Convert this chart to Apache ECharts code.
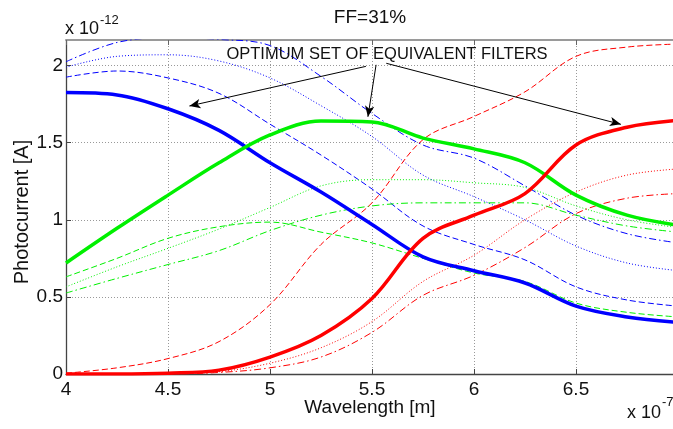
<!DOCTYPE html>
<html>
<head>
<meta charset="utf-8">
<script src="https://cdn.jsdelivr.net/npm/echarts@6/dist/echarts.min.js"></script>
<style>
html,body{margin:0;padding:0;background:#fff;}
#chart{width:673px;height:429px;}
</style>
</head>
<body>
<div id="chart"></div>
<script>
// Wavelength samples (x 10^-7 m)
const wavelengths = [4.0, 4.25, 4.5, 4.75, 5.0, 5.25, 5.5, 5.75, 6.0, 6.25, 6.5, 6.75, 7.0];
const xTicks = [4, 4.5, 5, 5.5, 6, 6.5, 7];
const yTicks = [0, 0.5, 1, 1.5, 2];

// Photocurrent (x 10^-12 A)
const blueSolid   = [1.825, 1.81, 1.72, 1.58, 1.37, 1.18, 0.97, 0.76, 0.67, 0.59, 0.44, 0.37, 0.335];
const blueDashed  = [1.925, 1.965, 1.92, 1.82, 1.62, 1.42, 1.20, 0.96, 0.84, 0.74, 0.565, 0.48, 0.44];
const blueDotted  = [1.99, 2.06, 2.07, 2.03, 1.92, 1.74, 1.54, 1.29, 1.15, 1.00, 0.83, 0.72, 0.67];
const blueDashDot = [2.025, 2.15, 2.18, 2.17, 2.13, 1.93, 1.69, 1.485, 1.40, 1.22, 1.03, 0.91, 0.85];

const greenSolid   = [0.72, 0.945, 1.16, 1.37, 1.55, 1.64, 1.635, 1.53, 1.46, 1.37, 1.16, 1.03, 0.965];
const greenDashed  = [0.63, 0.75, 0.88, 0.955, 0.985, 0.92, 0.85, 0.75, 0.655, 0.60, 0.46, 0.40, 0.37];
const greenDotted  = [0.565, 0.695, 0.815, 0.94, 1.08, 1.22, 1.26, 1.26, 1.24, 1.21, 1.09, 1.00, 0.95];
const greenDashDot = [0.525, 0.62, 0.71, 0.80, 0.93, 1.03, 1.09, 1.11, 1.11, 1.11, 1.03, 0.96, 0.92];

const redSolid   = [0.0, 0.0, 0.005, 0.025, 0.11, 0.25, 0.49, 0.88, 1.03, 1.17, 1.485, 1.60, 1.645];
const redDashed  = [0.005, 0.04, 0.10, 0.21, 0.45, 0.84, 1.11, 1.52, 1.67, 1.83, 2.06, 2.12, 2.14];
const redDotted  = [0.0, 0.0, 0.003, 0.015, 0.07, 0.17, 0.34, 0.60, 0.77, 1.00, 1.18, 1.29, 1.33];
const redDashDot = [0.0, 0.0, 0.0, 0.01, 0.04, 0.11, 0.27, 0.51, 0.64, 0.82, 1.04, 1.14, 1.17];

// Annotation arrows (data coordinates): [fromX, fromY, toX, toY]
const arrows = [
  [5.47, 1.995, 4.605, 1.738],
  [5.52, 2.005, 5.48, 1.668],
  [5.57, 2.015, 6.72, 1.619]
];

const FONT = '"Liberation Sans", Arial, sans-serif';
const BLUE = '#0000ff', GREEN = '#00f000', RED = '#ff0000';
const styles = {
  solid:   {width: 3.5, type: 'solid'},
  dashed:  {width: 1, type: [6, 3]},
  dotted:  {width: 1, type: [1, 2]},
  dashdot: {width: 1, type: [7, 3, 1.5, 3]}
};

function mk(name, values, color, st) {
  return {
    name: name,
    type: 'line',
    data: wavelengths.map((w, i) => [w, values[i]]),
    smooth: 0.35,
    showSymbol: false,
    symbol: 'none',
    clip: true,
    silent: true,
    lineStyle: {color: color, width: styles[st].width, type: styles[st].type},
    z: st === 'solid' ? 3 : 2
  };
}

const series = [
  mk('blueDashed', blueDashed, BLUE, 'dashed'),
  mk('blueDotted', blueDotted, BLUE, 'dotted'),
  mk('blueDashDot', blueDashDot, BLUE, 'dashdot'),
  mk('greenDashed', greenDashed, GREEN, 'dashed'),
  mk('greenDotted', greenDotted, GREEN, 'dotted'),
  mk('greenDashDot', greenDashDot, GREEN, 'dashdot'),
  mk('redDashed', redDashed, RED, 'dashed'),
  mk('redDotted', redDotted, RED, 'dotted'),
  mk('redDashDot', redDashDot, RED, 'dashdot'),
  mk('blueSolid', blueSolid, BLUE, 'solid'),
  mk('greenSolid', greenSolid, GREEN, 'solid'),
  mk('redSolid', redSolid, RED, 'solid'),
  {
    name: 'annot',
    type: 'line',
    data: [],
    silent: true,
    markLine: {
      silent: true,
      symbol: ['none', 'arrow'],
      symbolSize: [7, 11],
      label: {show: false},
      lineStyle: {color: '#000', width: 1, type: 'solid'},
      data: arrows.map(a => [{coord: [a[0], a[1]]}, {coord: [a[2], a[3]]}])
    },
    z: 5
  }
];

const chart = echarts.init(document.getElementById('chart'), null, {renderer: 'canvas'});
chart.setOption({
  animation: false,
  backgroundColor: '#fff',
  grid: {left: 66, top: 40, width: 612, height: 334, containLabel: false, outerBoundsMode: 'none'},
  xAxis: [{
    type: 'value', min: 4, max: 7, interval: 0.5,
    axisLine: {show: true, lineStyle: {color: '#444', width: 1.3}},
    axisTick: {show: true, inside: true, length: 5, lineStyle: {color: '#444'}},
    axisLabel: {color: '#111', fontSize: 19, fontFamily: FONT, margin: 6, hideOverlap: false,
      formatter: v => (xTicks.indexOf(v) >= 0 ? String(v) : '')},
    splitLine: {show: true, lineStyle: {color: '#999', type: [1, 2], width: 1}}
  }, {
    type: 'value', min: 4, max: 7, interval: 0.5, position: 'top',
    axisLine: {show: true, onZero: false, lineStyle: {color: '#9a9a9a', width: 2}},
    axisTick: {show: true, inside: true, length: 5, lineStyle: {color: '#666'}},
    axisLabel: {show: false},
    splitLine: {show: false}
  }],
  yAxis: {
    type: 'value', min: 0, max: 2.166, interval: 0.5,
    axisLine: {show: true, lineStyle: {color: '#444', width: 1.3}},
    axisTick: {show: true, inside: true, length: 5, lineStyle: {color: '#444'}},
    axisLabel: {color: '#111', fontSize: 19, fontFamily: FONT, margin: 3, showMaxLabel: false,
      formatter: v => (yTicks.indexOf(v) >= 0 ? String(v) : '')},
    splitLine: {show: true, lineStyle: {color: '#999', type: [1, 2], width: 1}}
  },
  series: series,
  graphic: [
    {type: 'text', style: {text: 'FF=31%', x: 370, y: 18, fill: '#111', font: '19px ' + FONT, textAlign: 'center', textVerticalAlign: 'middle'}},
    {type: 'text', style: {text: 'x 10', x: 65, y: 29, fill: '#111', font: '18px ' + FONT, textAlign: 'left', textVerticalAlign: 'middle'}},
    {type: 'text', style: {text: '-12', x: 100, y: 20, fill: '#111', font: '13px ' + FONT, textAlign: 'left', textVerticalAlign: 'middle'}},
    {type: 'text', style: {text: 'x 10', x: 627, y: 413, fill: '#111', font: '18px ' + FONT, textAlign: 'left', textVerticalAlign: 'middle'}},
    {type: 'text', style: {text: '-7', x: 662, y: 402, fill: '#111', font: '13px ' + FONT, textAlign: 'left', textVerticalAlign: 'middle'}},
    {type: 'text', style: {text: 'Wavelength [m]', x: 370, y: 408, fill: '#111', font: '19px ' + FONT, textAlign: 'center', textVerticalAlign: 'middle'}},
    {type: 'text', rotation: Math.PI / 2, x: 22, y: 212, style: {text: 'Photocurrent [A]', x: 0, y: 0, fill: '#111', font: '20px ' + FONT, textAlign: 'center', textVerticalAlign: 'middle'}},
    {type: 'text', z: 10, style: {text: 'OPTIMUM SET OF EQUIVALENT FILTERS', x: 387, y: 54, fill: '#111', font: '16.5px ' + FONT, textAlign: 'center', textVerticalAlign: 'middle'}}
  ]
});
</script>
</body>
</html>
